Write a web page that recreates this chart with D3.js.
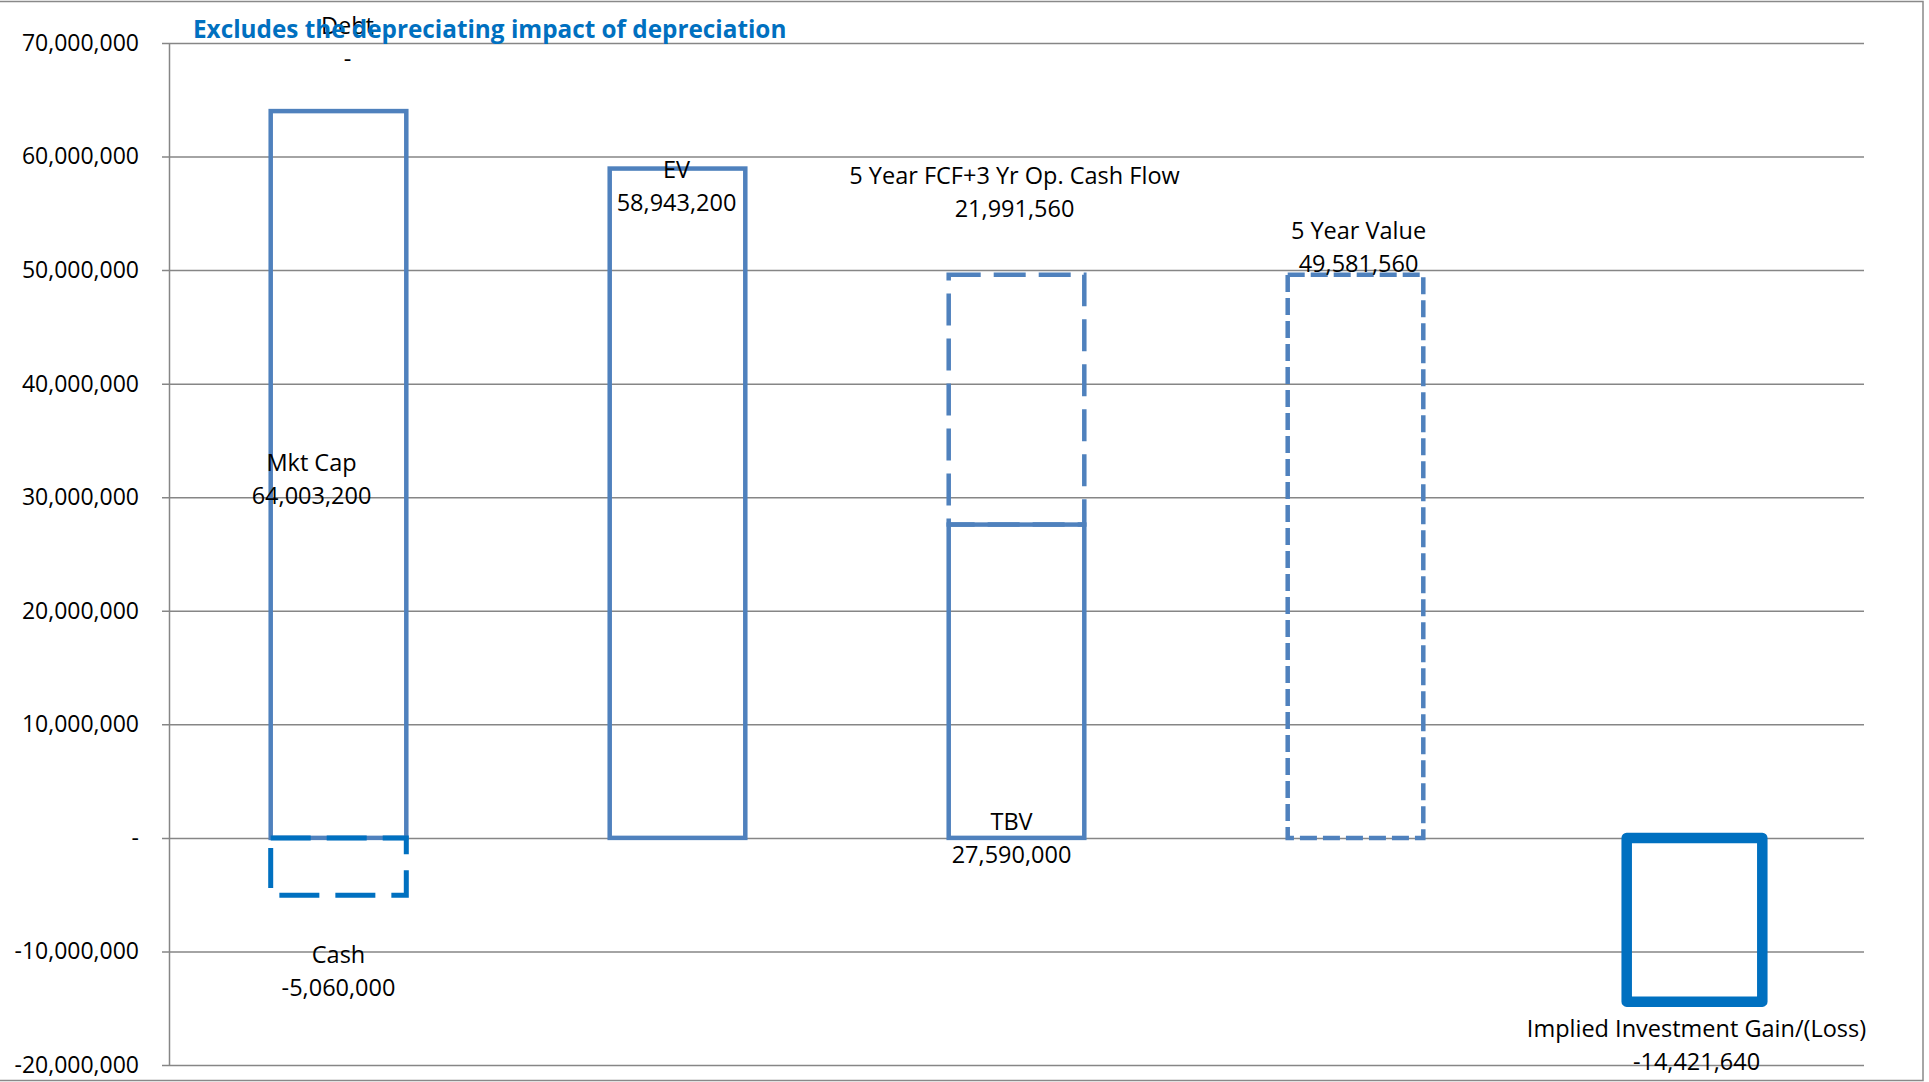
<!DOCTYPE html>
<html lang="en"><head><meta charset="UTF-8">
<script src="https://d3js.org/d3.v7.min.js"></script>
<style>
  body { margin: 0; background: #fff; }
  #chart { position: absolute; left: 0; top: 0; }
  text { font-family: "Open Sans", sans-serif; }
</style>
</head>
<body>
<div id="chart"></div>
<script>

// columns of the chart
const columns = ["Mkt Cap", "EV", "TBV", "5 Year Value", "Implied Investment Gain/(Loss)"];

// each box: its name, where it starts, how big it is, which column
const segNames  = ["Mkt Cap", "Cash", "Debt", "EV", "5 Year FCF+3 Yr Op. Cash Flow", "TBV", "5 Year Value", "Implied Investment Gain/(Loss)"];
const segBase   = [0, 0, 64003200, 0, 27590000, 0, 0, 0];
const segValues = [64003200, -5060000, 0, 58943200, 21991560, 27590000, 49581560, -14421640];
const segColumn = [0, 0, 0, 1, 2, 2, 3, 4];

const yTicks = [-20000000, -10000000, 0, 10000000, 20000000, 30000000, 40000000, 50000000, 60000000, 70000000];
const title = "Excludes the depreciating impact of depreciation";

// styles (kept apart from the data)
const segStyle = [
  { stroke: "#4F81BD", width: 4.5, dash: null },
  { stroke: "#0070C0", width: 5, dash: "40 16" },
  { stroke: "none", width: 0, dash: null },
  { stroke: "#4F81BD", width: 4.5, dash: null },
  { stroke: "#4F81BD", width: 4.5, dash: "32 13" },
  { stroke: "#4F81BD", width: 4.5, dash: null },
  { stroke: "#4F81BD", width: 4.5, dash: "17 6" },
  { stroke: "#0070C0", width: 10.5, dash: null }
];
// label anchor and pixel offsets
const labelAnchor = ["mid", "end", "end", "end", "end", "base", "end", "end"];
const labelDx = [-27, 0, 9, -1, -2, -5, 3, 2];
const labelDy = [-12, 59, -85, 1, -99, -16, -44, 27];

const width = 1929, height = 1082;
const mLeft = 169, mRight = 1864, mTop = 43, mBottom = 1065;

const svg = d3.select("#chart").append("svg")
  .attr("width", width).attr("height", height)
  .attr("viewBox", [0, 0, width, height]);

// outer frame
svg.append("rect")
  .attr("x", -2).attr("y", 1.5)
  .attr("width", 1923 + 2).attr("height", 1080.5 - 1.5)
  .attr("fill", "none").attr("stroke", "#898989").attr("stroke-width", 1.5);

const x = d3.scaleBand().domain(d3.range(columns.length))
  .range([mLeft, mRight]).paddingInner(0.6).paddingOuter(0.3);
const y = d3.scaleLinear().domain([-20000000, 70000000]).range([mBottom, mTop]);

const locale = d3.formatLocale({ decimal: ".", thousands: ",", grouping: [3], currency: ["$", ""], minus: "-" });
const fmt = v => v === 0 ? "-" : locale.format(",")(v);

const yAxis = d3.axisLeft(y).tickValues(yTicks)
  .tickSize(-(mRight - mLeft)).tickSizeOuter(0).tickPadding(30).tickFormat(fmt);

svg.append("g")
  .attr("transform", `translate(${mLeft},0)`)
  .call(yAxis)
  .call(g => g.select(".domain").attr("stroke", "#868686").attr("stroke-width", 1.5))
  .call(g => g.selectAll(".tick line").attr("x1", -7).attr("stroke", "#868686").attr("stroke-width", 1.5))
  .call(g => g.selectAll(".tick text").attr("fill", "#000").style("font-size", "23px")
    .style("font-family", "'Open Sans', sans-serif"));

// boxes
const idx = d3.range(segNames.length);
svg.append("g").selectAll("rect")
  .data(idx.filter(i => segValues[i] !== 0))
  .join("rect")
  .attr("x", i => x(segColumn[i]))
  .attr("width", x.bandwidth())
  .attr("y", i => y(Math.max(segBase[i], segBase[i] + segValues[i])))
  .attr("height", i => Math.abs(y(segBase[i]) - y(segBase[i] + segValues[i])))
  .attr("fill", "none")
  .attr("stroke", i => segStyle[i].stroke)
  .attr("stroke-width", i => segStyle[i].width)
  .attr("stroke-dasharray", i => segStyle[i].dash)
  .attr("stroke-linejoin", i => segStyle[i].width > 8 ? "round" : "miter");

// labels
function anchorY(i) {
  const a = labelAnchor[i];
  if (a === "mid") return y(segBase[i] + segValues[i] / 2);
  if (a === "base") return y(segBase[i]);
  return y(segBase[i] + segValues[i]);
}
const lab = svg.append("g").selectAll("g")
  .data(idx).join("g")
  .attr("transform", i => `translate(${x(segColumn[i]) + x.bandwidth() / 2 + labelDx[i]},${anchorY(i) + labelDy[i]})`);
lab.append("text")
  .attr("text-anchor", "middle").attr("dy", "0.35em")
  .style("font-size", "23.5px").attr("fill", "#000")
  .text(i => segNames[i]);
lab.append("text")
  .attr("text-anchor", "middle").attr("y", 33).attr("dy", "0.35em")
  .style("font-size", "23.5px").attr("fill", "#000")
  .text(i => fmt(segValues[i]));

// title
svg.append("text")
  .attr("x", 193).attr("y", 38)
  .attr("fill", "#0070C0")
  .style("font-size", "24.3px").style("font-weight", "bold")
  .text(title);

</script>
</body>
</html>
